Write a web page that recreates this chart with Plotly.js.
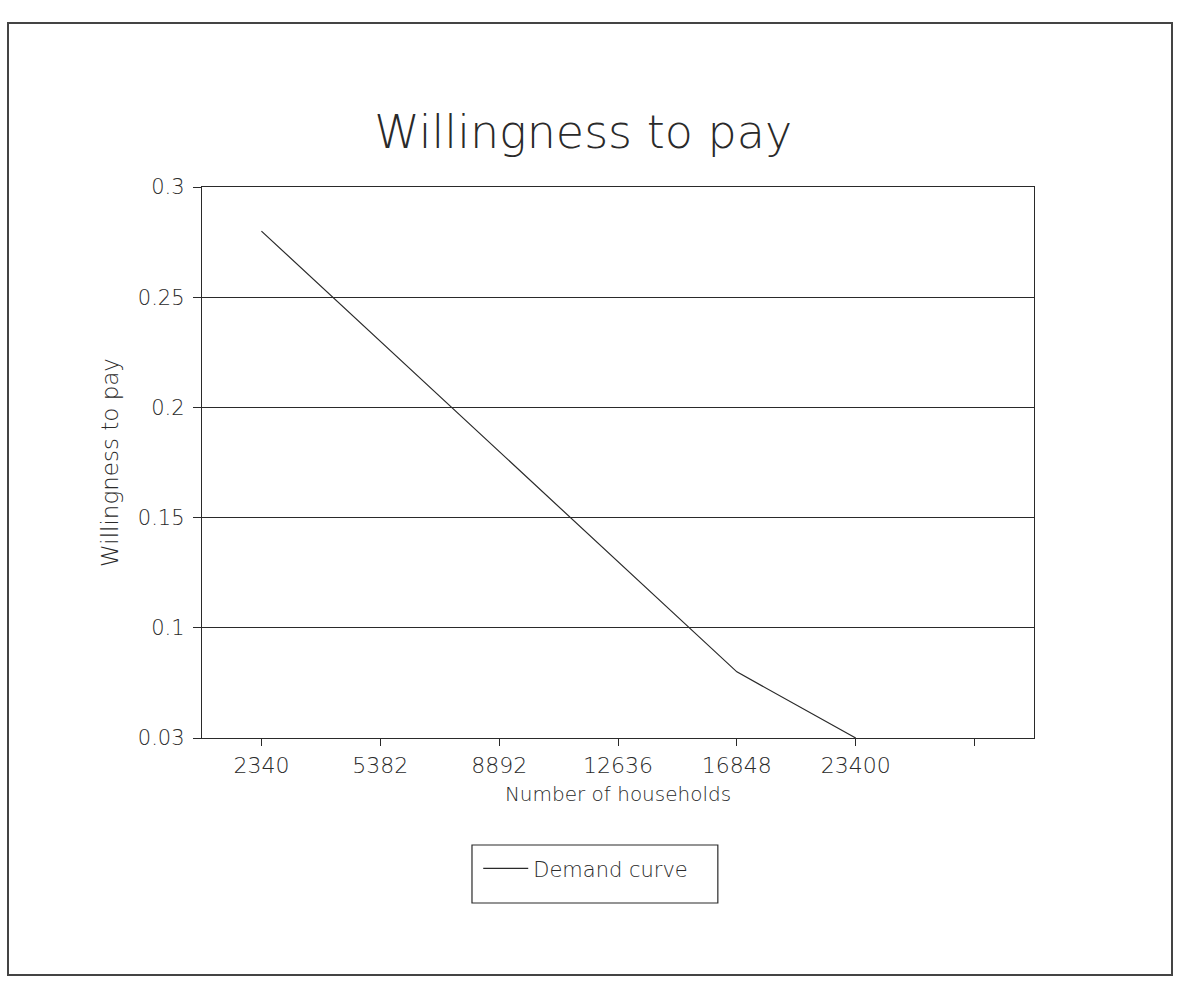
<!DOCTYPE html>
<html>
<head>
<meta charset="utf-8">
<script src="https://cdn.plot.ly/plotly-3.0.1.min.js"></script>
<style>
  html, body { margin: 0; padding: 0; background: #fff; }
  #chart { width: 1183px; height: 982px; }
  #frame { position: absolute; left: 7px; top: 22px; width: 1162px; height: 950px;
           border: 2px solid #444; pointer-events: none; }
</style>
</head>
<body>
<div id="chart"></div>
<div id="frame"></div>
<script>
// Data
const households = ['2340', '5382', '8892', '12636', '16848', '23400'];
const extraCategory = [' '];
const willingness = [0.28, 0.23, 0.18, 0.13, 0.08, 0.05];
const yTickValues = [0.05, 0.1, 0.15, 0.2, 0.25, 0.3];
const yTickLabels = ['0.03', '0.1', '0.15', '0.2', '0.25', '0.3'];

const FONT = 'DejaVu Sans, Liberation Sans, sans-serif';
const INK = '#2a2a2a';

const trace = {
  x: households,
  y: willingness,
  type: 'scatter',
  mode: 'lines',
  name: 'Demand curve',
  line: { color: INK, width: 1.2 }
};

const layout = {
  width: 1183,
  height: 982,
  paper_bgcolor: '#fff',
  plot_bgcolor: '#fff',
  margin: { l: 202, r: 149, t: 187, b: 244 },
  font: { family: FONT, color: INK, weight: 200 },
  title: {
    text: 'Willingness to pay',
    font: { family: FONT, size: 46, color: INK, weight: 200 },
    x: 0.493, xanchor: 'center',
    y: 0.866, yanchor: 'middle'
  },
  xaxis: {
    type: 'category',
    categoryorder: 'array',
    categoryarray: households.concat(extraCategory),
    range: [-0.5, 6.5],
    showgrid: false,
    zeroline: false,
    showline: true,
    linecolor: INK,
    linewidth: 1.2,
    mirror: true,
    ticks: 'outside',
    ticklen: 7,
    tickcolor: INK,
    tickfont: { family: FONT, size: 22, color: INK, weight: 200 },
    title: { text: 'Number of households', font: { family: FONT, size: 20, color: INK, weight: 200 }, standoff: 10 },
    fixedrange: true
  },
  yaxis: {
    range: [0.05, 0.3],
    tickmode: 'array',
    tickvals: yTickValues,
    ticktext: yTickLabels,
    showgrid: true,
    gridcolor: INK,
    gridwidth: 1.2,
    zeroline: false,
    showline: true,
    linecolor: INK,
    linewidth: 1.2,
    mirror: true,
    ticks: 'outside',
    ticklen: 8,
    tickcolor: INK,
    ticklabelstandoff: 4,
    tickfont: { family: FONT, size: 21, color: INK, weight: 200 },
    title: { text: 'Willingness to pay', font: { family: FONT, size: 23, color: INK, weight: 200 }, standoff: 12 },
    fixedrange: true
  },
  showlegend: true,
  legend: {
    orientation: 'h',
    x: 0.332, xanchor: 'left',
    y: -0.2, yanchor: 'top',
    borderwidth: 0,
    bgcolor: 'rgba(0,0,0,0)',
    itemwidth: 45,
    font: { family: FONT, size: 21, color: INK, weight: 200 }
  },
  shapes: [{
    type: 'rect', xref: 'paper', yref: 'paper',
    x0: 0.3245, x1: 0.620, y0: -0.1942, y1: -0.2995,
    line: { color: INK, width: 1.2 }
  }]
};

Plotly.newPlot('chart', [trace], layout, { displayModeBar: false, staticPlot: true });
</script>
</body>
</html>
